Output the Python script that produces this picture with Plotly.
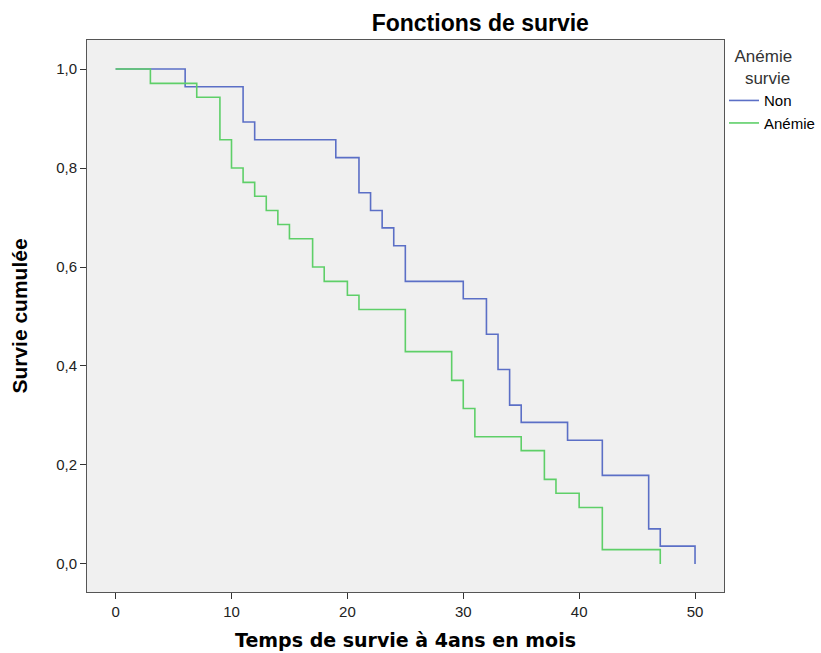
import plotly.graph_objects as go

# Kaplan-Meier step data (time in months, cumulative survival)
non_time = [0, 6, 11, 12, 19, 21, 22, 23, 24, 25, 30, 32, 33, 34, 35, 39, 42, 46, 47, 50, 50]
non_surv = [1.0, 0.964, 0.893, 0.857, 0.821, 0.750, 0.714, 0.679, 0.643, 0.571,
            0.536, 0.464, 0.393, 0.321, 0.286, 0.250, 0.179, 0.071, 0.036, 0.036, 0.0]

anemie_time = [0, 3, 7, 9, 10, 11, 12, 13, 14, 15, 17, 18, 20, 21, 25, 29, 30, 31, 35, 37, 38, 40, 42, 47, 47]
anemie_surv = [1.0, 0.971, 0.943, 0.857, 0.800, 0.771, 0.743, 0.714, 0.686, 0.657, 0.600,
               0.571, 0.543, 0.514, 0.429, 0.371, 0.314, 0.257, 0.229, 0.171, 0.143, 0.114,
               0.029, 0.029, 0.0]

x_ticks = [0, 10, 20, 30, 40, 50]
y_ticks = [0.0, 0.2, 0.4, 0.6, 0.8, 1.0]

fig = go.Figure()
fig.add_trace(go.Scatter(x=non_time, y=non_surv, mode="lines", name="Non",
                         line=dict(color="#5b6fc6", width=1.6, shape="hv")))
fig.add_trace(go.Scatter(x=anemie_time, y=anemie_surv, mode="lines", name="Anémie",
                         line=dict(color="#5ecf68", width=1.6, shape="hv")))

fig.update_layout(
    width=821, height=653,
    margin=dict(l=87, r=97, t=40, b=61, autoexpand=False),
    paper_bgcolor="white",
    plot_bgcolor="#f0f0f0",
    separators=", ",
    title=dict(text="<b>Fonctions de survie</b>", x=0.585, xanchor="center",
               y=0.965, yanchor="middle",
               font=dict(family="Liberation Sans, Arial", size=23, color="black")),
    showlegend=True,
    legend=dict(
        x=1.0, xanchor="left", y=1.0, yanchor="top",
        bgcolor="rgba(0,0,0,0)",
        title=dict(text="  Anémie<br>    survie", side="top",
                   font=dict(family="Liberation Sans, Arial", size=17, color="#333333")),
        font=dict(family="Liberation Sans, Arial", size=15, color="black"),
        itemwidth=30, tracegroupgap=0,
    ),
    xaxis=dict(
        range=[-2.47, 52.5], tickvals=x_ticks, ticks="outside", ticklen=6,
        tickcolor="#333333", showgrid=False, zeroline=False,
        showline=True, linecolor="#555555", linewidth=1, mirror=True,
        tickfont=dict(family="Liberation Sans, Arial", size=15, color="#222222"),
        title=dict(text="<b>Temps de survie à 4ans en mois</b>", standoff=14,
                   font=dict(family="DejaVu Sans", size=19, color="black")),
    ),
    yaxis=dict(
        range=[-0.0566, 1.0586], tickvals=y_ticks, tickformat=".1f", ticks="outside",
        ticklen=6, tickcolor="#333333", showgrid=False, zeroline=False,
        showline=True, linecolor="#555555", linewidth=1, mirror=True,
        tickfont=dict(family="Liberation Sans, Arial", size=15, color="#222222"),
        title=dict(text="<b>Survie cumulée</b>", standoff=22,
                   font=dict(family="Liberation Sans, Arial", size=21, color="black")),
    ),
)

fig.write_html("out.html")
